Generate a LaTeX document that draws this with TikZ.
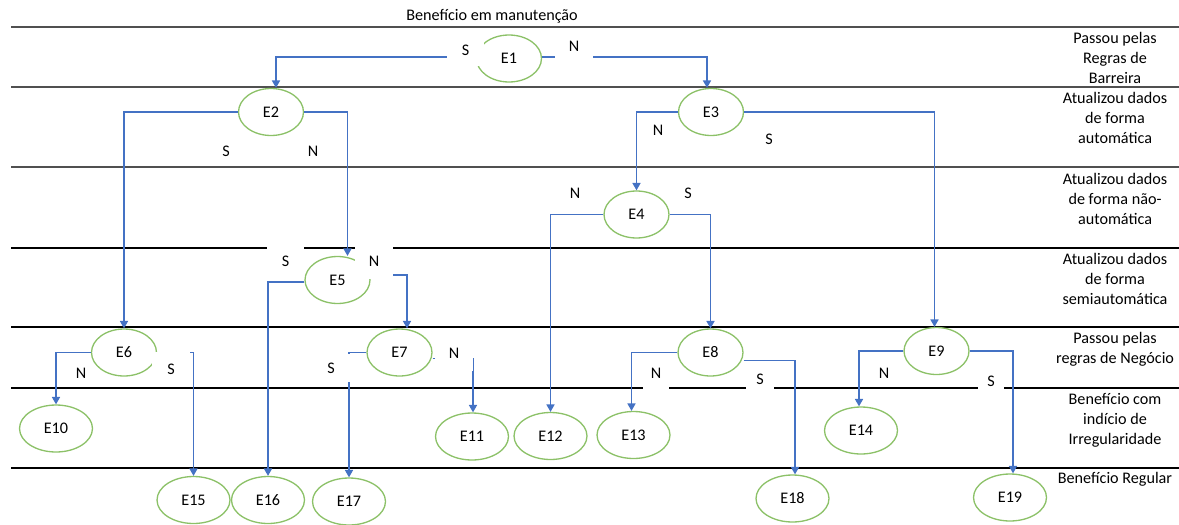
\documentclass[tikz,border=0pt]{standalone}
\usepackage{fontspec}
\setmainfont{Carlito}
\usetikzlibrary{arrows.meta,shapes.geometric,calc}
\definecolor{flowblue}{HTML}{4472C4}
\definecolor{stategreen}{HTML}{8CC168}
\definecolor{lanegray}{HTML}{505050}
\begin{document}
\begin{tikzpicture}[x=0.02cm,y=-0.02cm,
  font=\fontsize{9.2pt}{11.3pt}\selectfont,
  state/.style={ellipse, draw=stategreen, line width=0.75pt,
    minimum width=1.3cm, minimum height=0.94cm, inner sep=0pt},
  leaf/.style={state, minimum width=1.46cm},
  flow/.style={draw=flowblue, line width=0.75pt,
    -{Triangle[width=4.6pt,length=4.2pt]}},
  rule/.style={draw=black, line width=0.8pt},
  toprule/.style={draw=lanegray, line width=0.9pt},
  tag/.style={inner sep=0pt},
  mask/.style={fill=white, inner sep=0pt},
  lane/.style={align=center, inner sep=0pt}]
\useasboundingbox (0,0) rectangle (1179,524);

% lane separators
\draw[toprule] (11,27) -- (1179,27);
\draw[toprule] (11,87) -- (1179,87);
\draw[toprule] (11,167) -- (1179,167);
\draw[rule] (11,248) -- (1179,248);
\draw[rule] (11,327) -- (1179,327);
\draw[rule] (11,388) -- (1179,388);
\draw[rule] (11,468) -- (1179,468);

% title and lane names
\node[lane] (title) at (492,16) {Benefício em manutenção};
\node[lane] (lane1) at (1115,58) {Passou pelas\\Regras de\\Barreira};
\node[lane] (lane2) at (1115,118) {Atualizou dados\\de forma\\automática};
\node[lane] (lane3) at (1115,199) {Atualizou dados\\de forma não-\\automática};
\node[lane] (lane4) at (1115,279) {Atualizou dados\\de forma\\semiautomática};
\node[lane] (lane5) at (1115,349) {Passou pelas\\regras de Negócio};
\node[lane] (lane6) at (1115,420) {Benefício com\\indício de\\Irregularidade};
\node[lane] (lane7) at (1115,479) {Benefício Regular};

% decision states
\node[state] (E1) at (509,58.5) {E1};
\node[state] (E2) at (271,112) {E2};
\node[state] (E3) at (711,112) {E3};
\node[state] (E4) at (636.5,214.5) {E4};
\node[state] (E5) at (337.5,280) {E5};
\node[state] (E6) at (124,352.5) {E6};
\node[state] (E7) at (399.5,352.5) {E7};
\node[state] (E8) at (710.5,352.5) {E8};
\node[state] (E9) at (936.5,351) {E9};

% final states
\node[leaf] (E10) at (56,428.5) {E10};
\node[leaf] (E11) at (472,436.5) {E11};
\node[leaf] (E12) at (550.5,436) {E12};
\node[leaf] (E13) at (633.5,435) {E13};
\node[leaf] (E14) at (861,430.5) {E14};
\node[leaf] (E15) at (193.5,500) {E15};
\node[leaf] (E16) at (268,500) {E16};
\node[leaf] (E17) at (349,501.5) {E17};
\node[leaf] (E18) at (792.5,498.5) {E18};
\node[leaf] (E19) at (1010,497.5) {E19};

% transitions
\draw[flow] ([yshift=0.03cm]E1.west) -| ($(E2.north)+(5,0)$);
\draw[flow] ([yshift=0.03cm]E1.east) -| ($(E3.north)+(-4,0)$);
\draw[flow] (E2.west) -| (E6.north);
\draw[flow] (E2.east) -| ($(E5.north)+(10,0)$);
\draw[flow] (E3.west) -| (E4.north);
\draw[flow] (E3.east) -| ($(E9.north)+(-2,0)$);
\draw[flow] (E4.west) -| (E12.north);
\draw[flow] (E4.east) -| (E8.north);
\draw[flow] ([yshift=-0.04cm]E5.west) -| (E16.north);
\draw[flow] ([yshift=0.1cm]E5.east) -| ($(E7.north)+(7.5,0)$);
\draw[flow] (E6.west) -| (E10.north);
\draw[flow] (E6.east) -| (E15.north);
\draw[flow] (E7.west) -| (E17.north);
\draw[flow] ([yshift=-0.12cm]E7.east) -| ($(E11.north)+(1,0)$);
\draw[flow] (E8.west) -| ($(E13.north)+(-2,0)$);
\draw[flow] ([yshift=-0.16cm]E8.east) -| ($(E18.north)+(2.5,0)$);
\draw[flow] (E9.west) -| ($(E14.north)+(-2,0)$);
\draw[flow] (E9.east) -| ($(E19.north)+(3,0)$);

% answer labels (white boxes sit over the lines they cross)
\node[mask, minimum width=0.74cm, minimum height=0.62cm] (s1) at (465.5,50.5) {S};
\node[mask, minimum width=0.76cm, minimum height=0.64cm] (n1) at (574,46) {N};
\node[tag] (s2) at (226,151) {S};
\node[tag] (n2) at (313,151) {N};
\node[tag] (n3) at (658,130) {N};
\node[tag] (s3) at (769,139) {S};
\node[tag] (n4) at (575,193) {N};
\node[tag] (s4) at (688,193) {S};
\node[mask, minimum width=0.74cm, minimum height=0.7cm] (s5) at (285.5,261.5) {S};
\node[mask, minimum width=0.76cm, minimum height=0.7cm] (n5) at (374,261.5) {N};
\node[tag] (n6) at (81,373) {N};
\node[mask, minimum width=0.76cm, minimum height=0.68cm] (s6) at (171,369) {S};
\node[mask, minimum width=0.76cm, minimum height=0.56cm] (s7) at (331,368) {S};
\node[mask, minimum width=0.76cm, minimum height=0.72cm] (n7) at (454,353) {N};
\node[mask, minimum width=0.52cm, minimum height=0.68cm] (n8) at (656,373) {N};
\node[mask, minimum width=0.56cm, minimum height=0.52cm] (s8) at (760,379) {S};
\node[tag] (n9) at (884,373) {N};
\node[mask, minimum width=0.52cm, minimum height=0.52cm] (s9) at (991,381) {S};
\end{tikzpicture}
\end{document}
